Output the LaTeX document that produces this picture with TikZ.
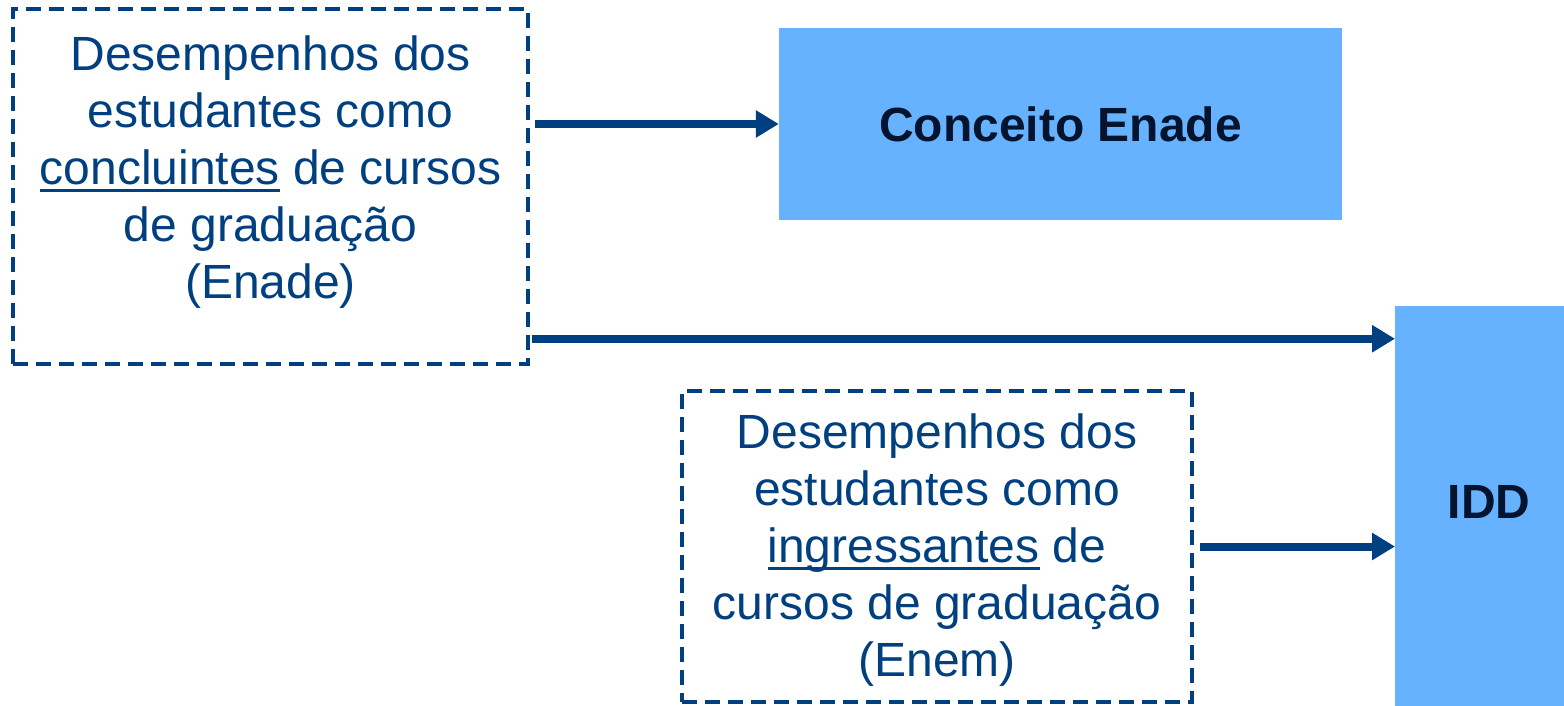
\documentclass[tikz,border=0pt]{standalone}
\usepackage{fontspec}
\setmainfont{Liberation Sans}
\usetikzlibrary{arrows.meta}
\definecolor{azulescuro}{HTML}{004080}
\definecolor{azulclaro}{HTML}{66B2FF}
\definecolor{azultitulo}{HTML}{05142E}
\newcommand\sublinha[1]{\setbox0\hbox{#1}\rlap{\rule[-7pt]{\wd0}{3pt}}\box0\relax}
\tikzset{
  tracejada/.style={draw=azulescuro,line width=3.5pt,dash pattern=on 15pt off 8pt,inner sep=0pt},
  texto/.style={text=azulescuro,align=center,font=\fontsize{48}{57}\selectfont},
  caixa/.style={fill=azulclaro,inner sep=0pt},
  rotulo/.style={text=azultitulo,font=\fontsize{48}{57}\selectfont\bfseries},
  seta/.style={draw=azulescuro,line width=8pt,-{Triangle[length=23pt,width=26pt]}}
}
\begin{document}
\begin{tikzpicture}[x=1pt,y=-1pt]
    % Área da figura em pixels da imagem original.
    \useasboundingbox (0,0) rectangle (1564,706);
    \clip (0,0) rectangle (1564,706);
    \node[tracejada,minimum width=515,minimum height=355] (concl) at (270.5,186.5) {};
    \node[texto] (concltxt) at ([yshift=14]concl.center)
      {Desempenhos dos\\estudantes como\\\sublinha{concluintes} de cursos\\de graduação\\(Enade)};
    \node[tracejada,minimum width=510,minimum height=311] (ingr) at (937,546.5) {};
    \node[texto] (ingrtxt) at ([yshift=-4]ingr.center)
      {Desempenhos dos\\estudantes como\\\sublinha{ingressantes} de\\cursos de graduação\\(Enem)};
    \node[caixa,minimum width=563,minimum height=192] (enade) at (1060.5,124) {};
    \node[rotulo] (enadetxt) at (enade.center) {Conceito Enade};
    \node[caixa,minimum width=188,minimum height=420,anchor=north west] (idd) at (1395,306) {};
    \node[rotulo] (iddtxt) at (1489,502) {IDD};
    % Setas para os indicadores.
    \draw[seta] ([xshift=5]concl.east |- enade.west) -- (enade.west);
    \draw[seta] ([xshift=2,yshift=27]concl.south east) -- ([yshift=27]concl.south east -| idd.west);
    \draw[seta] ([xshift=6]ingr.east) -- (ingr.east -| idd.west);
  \end{tikzpicture}
\end{document}
